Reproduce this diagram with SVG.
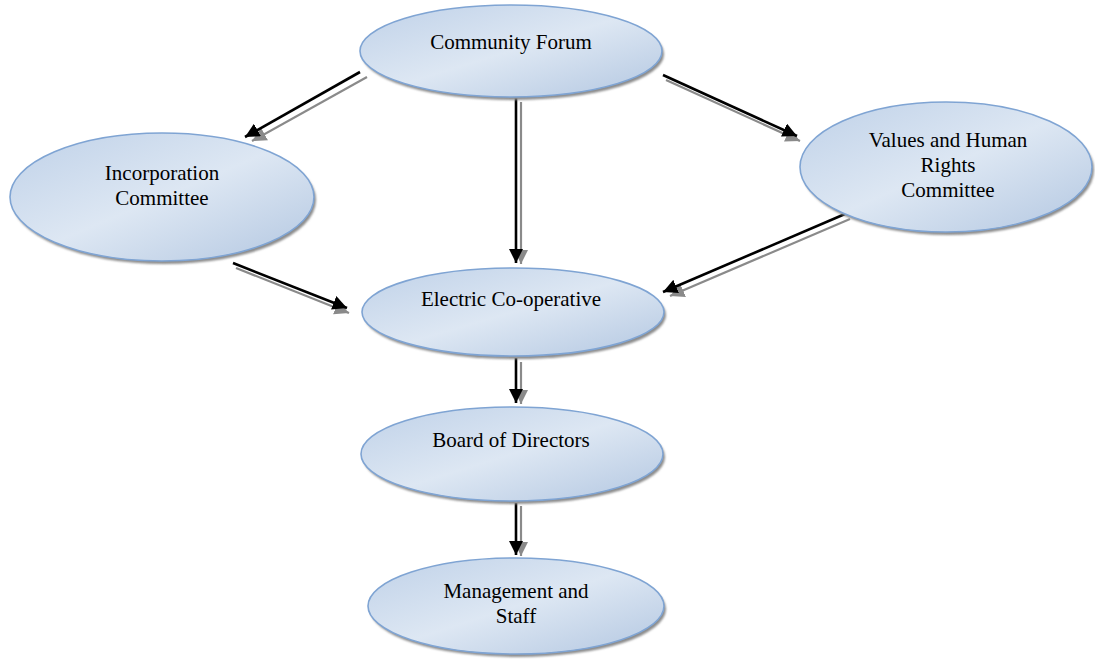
<svg xmlns="http://www.w3.org/2000/svg" width="1095" height="662" viewBox="0 0 1095 662">
<defs>
<linearGradient id="fill" x1="0" y1="0" x2="1" y2="1">
<stop offset="0" stop-color="#bfd1e8"/>
<stop offset="0.5" stop-color="#dde7f3"/>
<stop offset="1" stop-color="#b3c7e1"/>
</linearGradient>
<filter id="blur" x="-10%" y="-10%" width="120%" height="120%"><feGaussianBlur stdDeviation="1"/></filter>
<marker id="ah" viewBox="0 0 10 10" refX="10" refY="5" markerWidth="5.5" markerHeight="5.5" orient="auto" markerUnits="strokeWidth"><path d="M0,0 L10,5 L0,10 z" fill="#000"/></marker>
<marker id="ahg" viewBox="0 0 10 10" refX="10" refY="5" markerWidth="6.5" markerHeight="6.5" orient="auto" markerUnits="strokeWidth"><path d="M0,0 L10,5 L0,10 z" fill="#8a8a8a"/></marker>
</defs>
<style>
.sh{fill:#8c8c8c;filter:url(#blur);}
.el{fill:url(#fill);stroke:#7fa4d3;stroke-width:1.6;}
.t{font-family:"Liberation Serif","Times New Roman",serif;font-size:21px;fill:#000;text-anchor:middle;}
.ln{stroke:#000;stroke-width:2.6;fill:none;marker-end:url(#ah);}
.lg{stroke:#8a8a8a;stroke-width:2.2;fill:none;marker-end:url(#ahg);}
</style>
<rect width="1095" height="662" fill="#fff"/>
<g id="connectors">
<line class="lg" x1="367" y1="77" x2="252" y2="141"/>
<line class="ln" x1="360" y1="72" x2="245" y2="137"/>
<line class="lg" x1="521" y1="102" x2="521" y2="264"/>
<line class="ln" x1="516" y1="95" x2="516" y2="263"/>
<line class="lg" x1="666" y1="80" x2="800" y2="141"/>
<line class="ln" x1="663" y1="75" x2="797" y2="136"/>
<line class="lg" x1="236" y1="268" x2="349" y2="313"/>
<line class="ln" x1="233" y1="263" x2="347" y2="308"/>
<line class="lg" x1="850" y1="219" x2="670" y2="296"/>
<line class="ln" x1="845" y1="214" x2="663" y2="292"/>
<line class="lg" x1="521" y1="362" x2="521" y2="404"/>
<line class="ln" x1="516" y1="358" x2="516" y2="403"/>
<line class="lg" x1="521" y1="506" x2="521" y2="556"/>
<line class="ln" x1="516" y1="503" x2="516" y2="555"/>
</g>
<g id="community-forum">
<ellipse class="sh" cx="513" cy="54" rx="151" ry="46"/>
<ellipse class="el" cx="511" cy="51" rx="151" ry="46"/>
<text class="t" x="511" y="49">Community Forum</text>
</g>
<g id="incorporation-committee">
<ellipse class="sh" cx="164" cy="200" rx="152" ry="64"/>
<ellipse class="el" cx="162" cy="197" rx="152" ry="64"/>
<text class="t" x="162" y="180">Incorporation</text>
<text class="t" x="162" y="205">Committee</text>
</g>
<g id="values-committee">
<ellipse class="sh" cx="948" cy="170" rx="146" ry="65"/>
<ellipse class="el" cx="946" cy="167" rx="146" ry="65"/>
<text class="t" x="948" y="147">Values and Human</text>
<text class="t" x="948" y="172">Rights</text>
<text class="t" x="948" y="197">Committee</text>
</g>
<g id="electric-cooperative">
<ellipse class="sh" cx="515" cy="315" rx="151" ry="44"/>
<ellipse class="el" cx="513" cy="312" rx="151" ry="44"/>
<text class="t" x="511" y="306">Electric Co-operative</text>
</g>
<g id="board-of-directors">
<ellipse class="sh" cx="514" cy="457" rx="151" ry="47"/>
<ellipse class="el" cx="512" cy="454" rx="151" ry="47"/>
<text class="t" x="511" y="447">Board of Directors</text>
</g>
<g id="management-staff">
<ellipse class="sh" cx="518" cy="609" rx="148" ry="48"/>
<ellipse class="el" cx="516" cy="606" rx="148" ry="48"/>
<text class="t" x="516" y="598">Management and</text>
<text class="t" x="516" y="623">Staff</text>
</g>
</svg>
